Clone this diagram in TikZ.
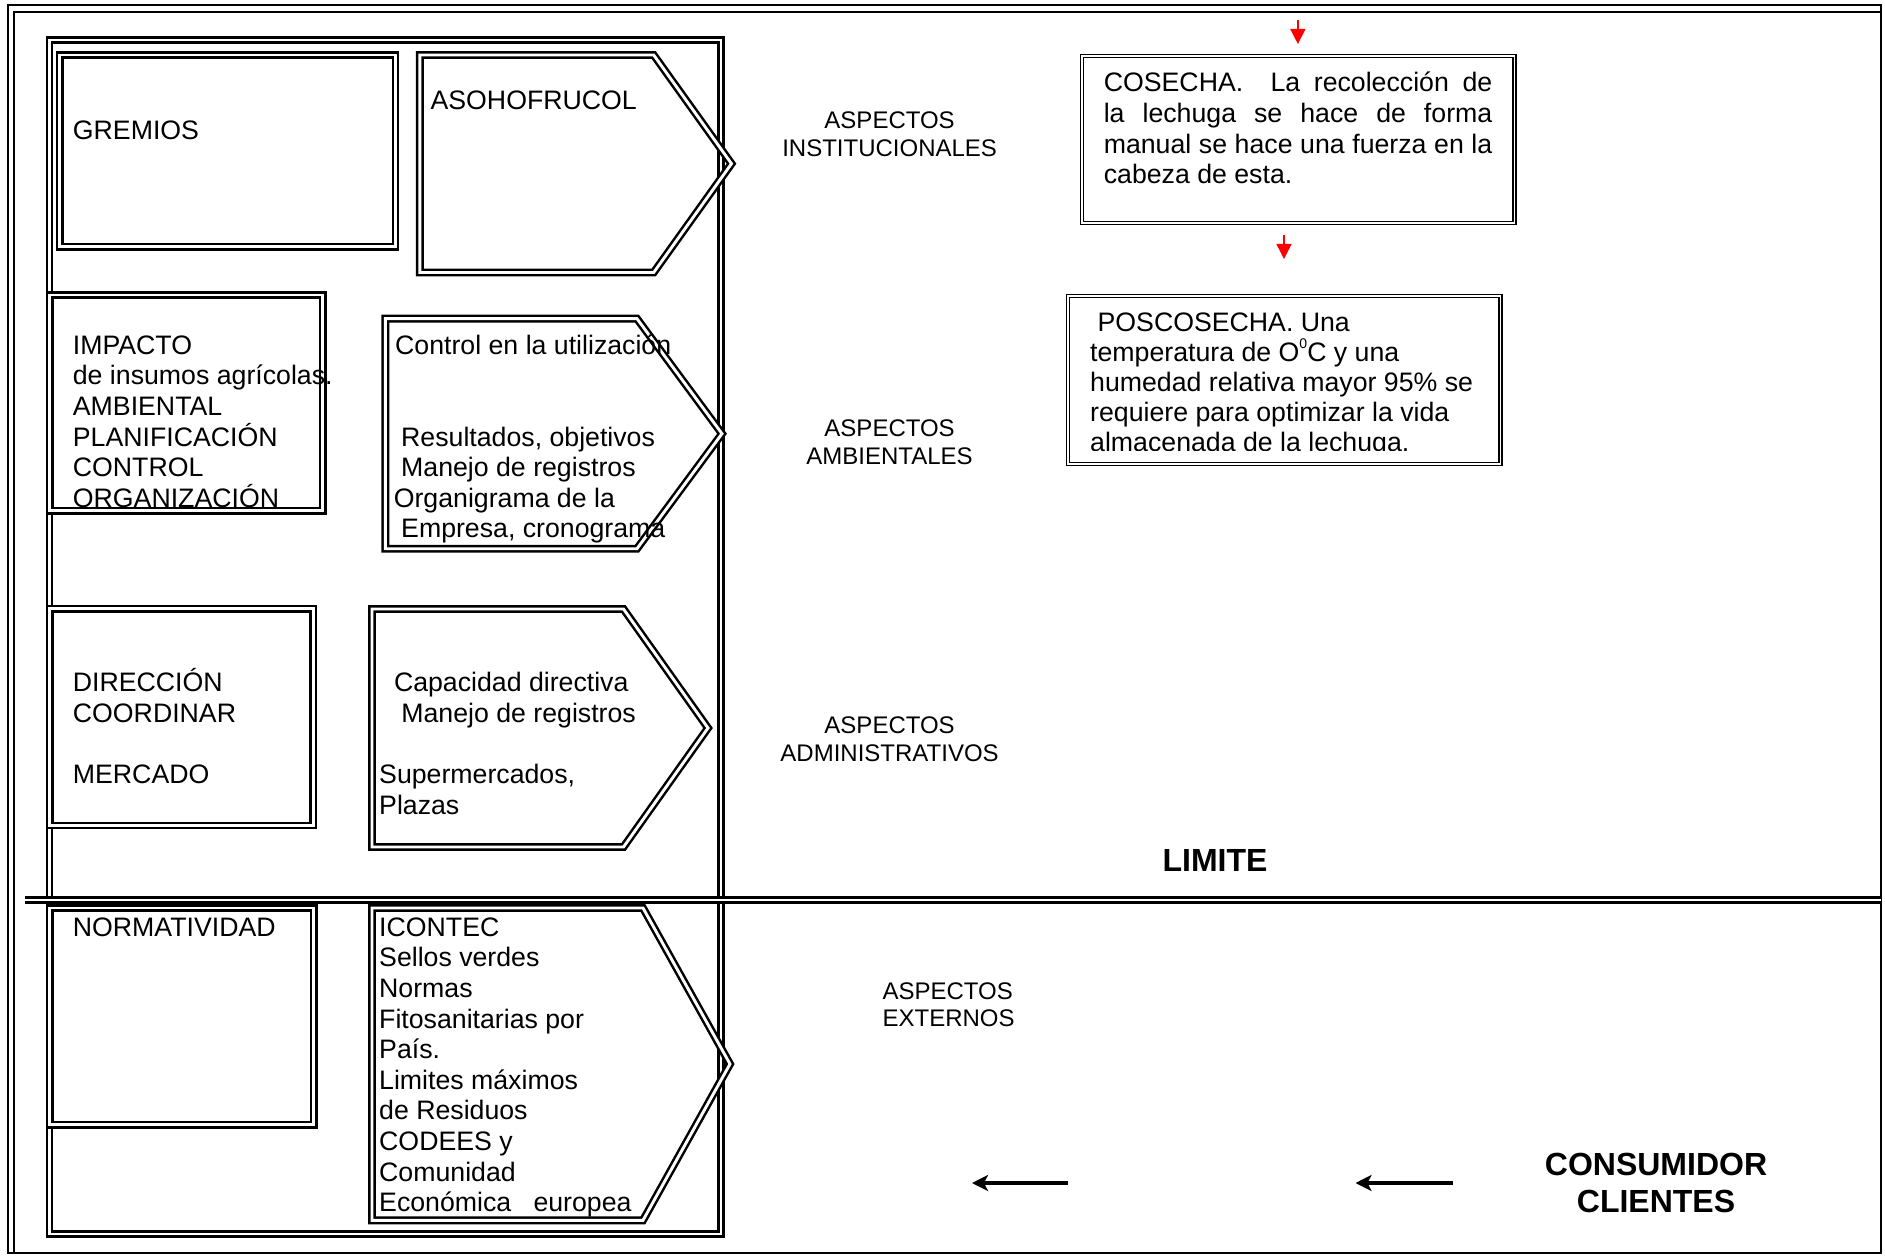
\documentclass[tikz,border=0pt]{standalone}
\usepackage{fontspec}
\setmainfont{Liberation Sans}
\usetikzlibrary{arrows.meta}
\newcommand\tstrut{\rule{0pt}{26pt}}
\newcommand\sstrut{\rule{0pt}{22pt}}
\newcommand\bstrut{\rule{0pt}{30pt}}
\newcommand\lsp{\hspace*{7.4pt}}
\begin{document}
\begin{tikzpicture}[x=1pt,y=-1pt,
  dbl/.style={draw=black, line width=2.5pt, double=white, double distance=2.9pt},
  tdbl/.style={draw=black, line width=1.3pt, double=white, double distance=1.6pt},
  frameline/.style={draw=black, line width=2.4pt},
  txt/.style={anchor=north west, inner sep=0pt, align=left, font=\fontsize{26.7pt}{30.6pt}\selectfont},
  asp/.style={anchor=north, inner sep=0pt, align=center, font=\fontsize{24pt}{27.6pt}\selectfont},
  big/.style={anchor=north, inner sep=0pt, align=center, font=\fontsize{32pt}{37pt}\selectfont\bfseries},
  redarrow/.style={draw=red, line width=1.5pt, -{Triangle[length=15pt,width=15pt]}},
  blkarrow/.style={draw=black, line width=3.4pt, -{Stealth[length=16pt,width=16pt,inset=4pt]}}
]
\fill[white] (0,0) rectangle (1885,1257);
\useasboundingbox (0,0) rectangle (1885,1257);

% outer frame
\draw[frameline, line width=2pt] (8,5) rectangle (1881,1253);
\draw[frameline] (14,12) rectangle (1881,1253);

% left container
\draw[dbl] (49.5,40) rectangle (721,1234);

% left boxes
\draw[dbl] (59.6,55) rectangle (395.5,246.7);
\draw[dbl] (49.7,295) rectangle (322.9,510.8);
\draw[dbl] (49.7,608.8) rectangle (313.1,825.5);
\draw[dbl] (49.7,908) rectangle (313.6,1124.8);

% arrow shapes
\draw[dbl] (419.8,55) -- (653.7,55) -- (731.5,163.7) -- (653.7,272.5) -- (419.8,272.5) -- cycle;
\draw[dbl] (385.4,318.7) -- (637,318.7) -- (722,433.7) -- (637,548.7) -- (385.4,548.7) -- cycle;
\draw[dbl] (372,609) -- (623.5,609) -- (708,728) -- (623.5,847) -- (372,847) -- cycle;
\draw[dbl] (372,908) -- (643,908) -- (730,1064) -- (643,1220.3) -- (372,1220.3) -- cycle;

% LIMITE line
\draw[draw=black, line width=2.5pt, double=white, double distance=2.6pt] (25,900) -- (1881,900);

% right boxes
\draw[tdbl] (1081.7,55.8) rectangle (1514.5,223);
\draw[tdbl] (1068.2,295.8) rectangle (1500.4,463.7);

% texts left column
\node[txt] (gremios) at (72.7,113.3) {\tstrut GREMIOS};
\node[txt] (asoho) at (430.4,83) {\tstrut ASOHOFRUCOL};
\node[txt] (impacto) at (72.7,328) {\tstrut IMPACTO\\de insumos agrícolas.\\AMBIENTAL\\PLANIFICACIÓN\\CONTROL\\ORGANIZACIÓN};
\node[txt] (control) at (393.6,328) {\tstrut\hspace*{1.4pt}Control en la utilización\\[61.2pt]\lsp Resultados, objetivos\\\lsp Manejo de registros\\Organigrama de la\\\lsp Empresa, cronograma};
\node[txt] (direccion) at (72.7,665.7) {\tstrut DIRECCIÓN\\COORDINAR\\[30.6pt]MERCADO};
\node[txt] (capacidad) at (379,665.7) {\tstrut\lsp\lsp Capacidad directiva\\\lsp\lsp\lsp Manejo de registros\\[30.6pt]Supermercados,\\Plazas};
\node[txt] (normat) at (72.7,910.7) {\tstrut NORMATIVIDAD};
\node[txt] (icontec) at (379,910) {\tstrut ICONTEC\\Sellos verdes\\Normas\\Fitosanitarias por\\País.\\Limites máximos\\de Residuos\\CODEES y\\Comunidad\\Económica\ \ \ europea};

% aspect labels
\node[asp] (institucionales) at (889.6,106.8) {\sstrut ASPECTOS\\INSTITUCIONALES};
\node[asp] (ambientales) at (889.6,414.6) {\sstrut ASPECTOS\\AMBIENTALES};
\node[asp] (administrativos) at (889.6,711.6) {\sstrut ASPECTOS\\ADMINISTRATIVOS};
\node[asp, anchor=north west, align=left] (externos) at (882.4,977) {\sstrut ASPECTOS\\EXTERNOS};

\node[big] (limite) at (1215,841.7) {\bstrut LIMITE};
\node[big] (consumidor) at (1656,1145) {\bstrut CONSUMIDOR\\CLIENTES};

% right text boxes
\node[txt, text width=388.5pt, align=justify] (cosecha) at (1103.6,65.7)
  {\tstrut COSECHA.\ \ La recolección de\linebreak la lechuga se hace de forma\linebreak manual se hace una fuerza en la\linebreak cabeza de esta.};
\begin{scope}
\clip (1060,290) rectangle (1510,450);
\node[txt, font=\fontsize{26.7pt}{30pt}\selectfont] (poscosecha) at (1090,305.7)
  {\tstrut\lsp POSCOSECHA. Una\\temperatura de O\raisebox{13.4pt}{\fontsize{14pt}{14pt}\selectfont 0}C y una\\humedad relativa mayor 95\% se\\requiere para optimizar la vida\\almacenada de la lechuga.};
\end{scope}

% arrows
\coordinate (r1s) at (1297.9,20);
\coordinate (r1e) at (1297.9,44);
\coordinate (r2s) at (1284,235);
\coordinate (r2e) at (1284,259);
\draw[redarrow] (r1s) -- (r1e);
\draw[redarrow] (r2s) -- (r2e);
\coordinate (b1s) at (1068,1183);
\coordinate (b1e) at (972,1183);
\coordinate (b2s) at (1453,1183);
\coordinate (b2e) at (1355.5,1183);
\draw[blkarrow] (b1s) -- (b1e);
\draw[blkarrow] (b2s) -- (b2e);
\end{tikzpicture}
\end{document}
